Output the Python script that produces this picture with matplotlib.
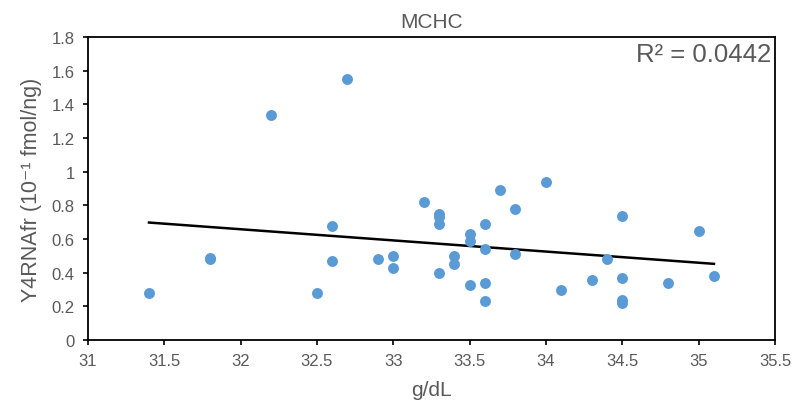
import numpy as np
import matplotlib
matplotlib.use("Agg")
import matplotlib.pyplot as plt

plt.rcParams['font.family'] = ['Liberation Sans', 'DejaVu Sans']

x_vals = [31.4, 31.8, 31.8, 32.2, 32.5, 32.6, 32.6, 32.7, 32.9, 33.0, 33.0,
          33.2, 33.3, 33.3, 33.3, 33.3, 33.4, 33.4, 33.5, 33.5, 33.5,
          33.6, 33.6, 33.6, 33.6, 33.7, 33.8, 33.8, 34.0, 34.1, 34.3, 34.4,
          34.5, 34.5, 34.5, 34.5, 34.8, 35.0, 35.1]
y_vals = [0.28, 0.49, 0.48, 1.34, 0.28, 0.68, 0.47, 1.55, 0.48, 0.50, 0.43,
          0.82, 0.75, 0.73, 0.69, 0.40, 0.50, 0.45, 0.63, 0.59, 0.33,
          0.69, 0.54, 0.34, 0.23, 0.89, 0.78, 0.51, 0.94, 0.30, 0.36, 0.48,
          0.74, 0.37, 0.24, 0.22, 0.34, 0.65, 0.38]
x_ticks = [31, 31.5, 32, 32.5, 33, 33.5, 34, 34.5, 35, 35.5]
x_tick_labels = ["31", "31.5", "32", "32.5", "33", "33.5", "34", "34.5", "35", "35.5"]
y_ticks = [0, 0.2, 0.4, 0.6, 0.8, 1.0, 1.2, 1.4, 1.6, 1.8]
y_tick_labels = ["0", "0.2", "0.4", "0.6", "0.8", "1", "1.2", "1.4", "1.6", "1.8"]
r2_text = "R² = 0.0442"

gray = "#595959"
fig = plt.figure(figsize=(7.99, 4.10), dpi=100)
ax = fig.add_axes([0.110, 0.168, 0.860, 0.739])

ax.scatter(x_vals, y_vals, s=62, color="#5B9BD5", zorder=3, linewidths=0)

xa = np.array(x_vals)
ya = np.array(y_vals)
slope, intercept = np.polyfit(xa, ya, 1)
xl = np.array([xa.min(), xa.max()])
ax.plot(xl, slope * xl + intercept, color="black", lw=1.8, zorder=2)

ax.set_xlim(31, 35.5)
ax.set_ylim(0, 1.8)
ax.set_xticks(x_ticks)
ax.set_xticklabels(x_tick_labels)
ax.set_yticks(y_ticks)
ax.set_yticklabels(y_tick_labels)
ax.tick_params(axis='both', direction='out', length=3.6, width=1.2, colors='black',
               labelcolor=gray, labelsize=12, pad=6)
for sp in ax.spines.values():
    sp.set_linewidth(1.3)
    sp.set_color("black")

ax.set_title("MCHC", color=gray, fontsize=15, pad=7)
ax.set_xlabel("g/dL", color=gray, fontsize=15, labelpad=8)
ax.set_ylabel("Y4RNAfr (10⁻¹ fmol/ng)", color=gray, fontsize=15.5, labelpad=7)
ax.text(0.995, 0.985, r2_text, transform=ax.transAxes, ha='right', va='top',
        fontsize=18.5, color=gray)

fig.savefig("out.png", dpi=100)
